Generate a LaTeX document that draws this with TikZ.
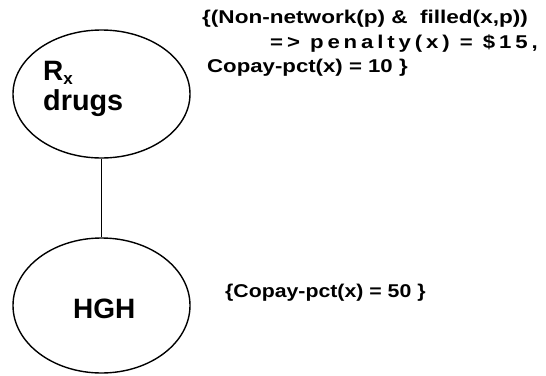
\documentclass[tikz,border=0pt]{standalone}
\usepackage{fontspec}
\setmainfont{Liberation Sans}
\newfontfamily\widef{Liberation Sans}[FakeStretch=1.2]
\newfontfamily\widerf{Liberation Sans}[FakeStretch=1.22]
\newfontfamily\narrowf{Liberation Sans}[FakeStretch=1.15]
\newfontfamily\spacedf{Liberation Sans}[FakeStretch=1.2,LetterSpace=21]
\usetikzlibrary{shapes.geometric}
\begin{document}
\begin{tikzpicture}[x=1pt,y=-1pt,
  bubble/.style={draw,ellipse,line width=1.4pt,inner sep=0pt,minimum width=177pt},
  bigtxt/.style={anchor=base west,inner sep=0pt,font=\fontsize{28}{30}\selectfont\bfseries},
  smtxt/.style={anchor=base west,inner sep=0pt,font=\fontsize{18.5}{20}\selectfont\widef\bfseries},
  sptxt/.style={anchor=base west,inner sep=0pt,font=\fontsize{18.5}{20}\selectfont\spacedf\bfseries}]
\useasboundingbox (0,0) rectangle (546,375);
\node[bubble,minimum height=128pt] (rx) at (101.5,94) {};
\node[bubble,minimum height=135pt] (hgh) at (101.5,305.5) {};
\draw[line width=1.4pt] (rx.south) -- (hgh.north);
\node[bigtxt] (rxa) at (43,80) {R\raisebox{-4pt}{\fontsize{17}{17}\selectfont x}};
\node[bigtxt,font=\fontsize{28.8}{30}\selectfont\bfseries] (rxb) at (43,110) {drugs};
\node[bigtxt] (hghl) at (73,318) {HGH};
\node[smtxt,font=\fontsize{18.5}{20}\selectfont\widerf\bfseries] (l1) at (202,23) {\{(Non-network(p) \&\ \hspace{6pt}filled(x,p))};
\node[sptxt] (l2) at (270,48) {=> penalty(x) = \$15,};
\node[smtxt] (l3) at (207,72) {Copay-pct(x) = 10 \}};
\node[smtxt,font=\fontsize{18.5}{20}\selectfont\narrowf\bfseries] (l4) at (225,297) {\{Copay-pct(x) = 50 \}};
\end{tikzpicture}
\end{document}
